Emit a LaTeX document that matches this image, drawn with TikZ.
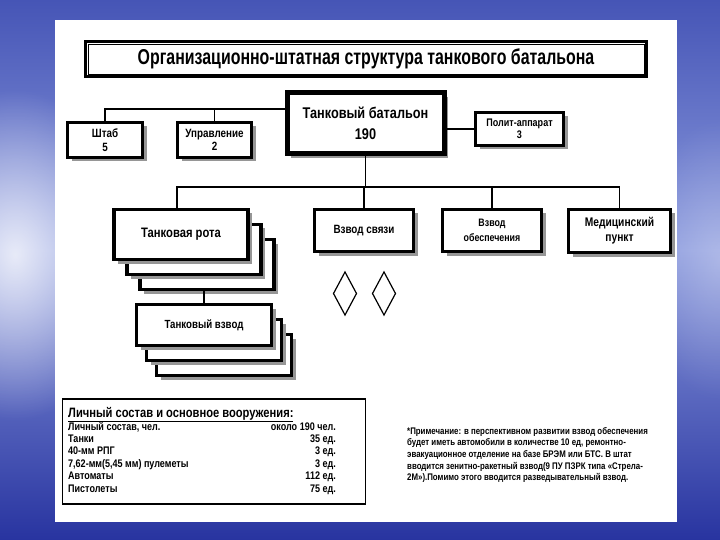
\documentclass[tikz,border=0pt]{standalone}
\usepackage{fontspec}
\setmainfont{Liberation Sans}[FakeStretch=0.82]
\newfontfamily\titlefont{Liberation Sans}[FakeStretch=0.74]
\usetikzlibrary{shadows,calc,fadings}
\tikzfading[name=glow, inner color=transparent!0, outer color=transparent!100]
\definecolor{bgtop}{RGB}{70,85,182}
\definecolor{bgmid}{RGB}{140,155,222}
\definecolor{bgbot}{RGB}{40,52,160}
\definecolor{shad}{RGB}{150,150,150}
\tikzset{
  shd/.style={drop shadow={shadow xshift=4pt,shadow yshift=-4pt,fill=shad,opacity=1}},
  bx/.style 2 args={draw=black,fill=white,line width=3pt,minimum width=#1,minimum height=#2,
     inner sep=0pt,align=center,font=\bfseries\fontsize{12}{13.5}\selectfont,shd},
  conn/.style={draw=black,line width=1.3pt},
  dia/.style={draw=black,line width=1.2pt,fill=white},
  row/.style={inner sep=0pt,font=\bfseries\fontsize{11}{12}\selectfont}
}
\begin{document}
\begin{tikzpicture}[x=1pt,y=-1pt]
\useasboundingbox (0,0) rectangle (720,540);
% background
\shade[top color=bgtop,bottom color=bgmid] (0,0) rectangle (720,250);
\shade[top color=bgmid,bottom color=bgbot] (0,250) rectangle (720,540);
\fill[white,opacity=.8,path fading=glow] (-100,90) rectangle (130,420);
\fill[white,opacity=.3,path fading=glow] (640,120) rectangle (800,400);
\fill[white] (55,20) rectangle (677,522);

% title
\node[draw=black,fill=white,line width=3pt,minimum width=561,minimum height=35,inner sep=0pt,
      font=\titlefont\bfseries\fontsize{21.5}{23}\selectfont] (title) at (366,59)
      {Организационно-штатная структура танкового батальона};
\draw[line width=0.8pt] ([shift={(4,4)}]title.north west) rectangle ([shift={(-4,-4)}]title.south east);

% top level
\node[bx={157}{61},line width=5pt,font=\bfseries\fontsize{15.5}{21}\selectfont] (bat) at (365.5,123.5)
      {Танковый батальон\\190};
\node[bx={75}{35}] (shtab) at (105,140) {Штаб\\5};
\node[bx={74}{35}] (upr) at (214.5,140) {Управление\\2};
\node[bx={88}{33},font=\bfseries\fontsize{11}{12.5}\selectfont] (polit) at (519.5,129) {Полит-аппарат\\3};

\draw[conn] (shtab.north) |- ([yshift=14.5pt]bat.west);
\draw[conn] (upr.north) -- ++(0,-12);
\draw[conn] (bat.east |- polit.west) -- (polit.west);

% second level
\coordinate (bus) at (365.5,187);
\node[bx={134}{50},line width=3.5pt] (rota3) at (207,264.5) {};
\node[bx={134}{50},line width=3.5pt] (rota2) at (194,249.5) {};
\node[bx={134}{50},line width=3.5pt,font=\bfseries\fontsize{13.7}{15}\selectfont] (rota) at (181,234.5) {Танковая рота};
\node[bx={99}{42},line width=3.5pt] (svyaz) at (364,230.5) {Взвод связи};
\node[bx={99}{42},line width=3.5pt,font=\bfseries\fontsize{10.8}{15}\selectfont] (obesp) at (492,230.5) {Взвод\\обеспечения};
\node[bx={102}{43},line width=3.5pt,font=\bfseries\fontsize{12.5}{15}\selectfont] (med) at (619.5,231) {Медицинский\\пункт};

\draw[conn] (bat.south) -- (bus);
\draw[conn] ([xshift=-4pt]rota.north) |- (bus) -| (med.north);
\draw[conn] (svyaz.north) -- (svyaz.north |- bus);
\draw[conn] (obesp.north) -- (obesp.north |- bus);

% diamonds
\draw[dia] (345,272) -- (356.5,293.5) -- (345,315) -- (333.5,293.5) -- cycle;
\draw[dia] (384,272) -- (395.5,293.5) -- (384,315) -- (372.5,293.5) -- cycle;

% platoon stack
\node[bx={135}{41},line width=3.5pt] (vzvod3) at (224,355) {};
\node[bx={135}{41},line width=3.5pt] (vzvod2) at (214,340) {};
\node[bx={135}{41},line width=3.5pt,font=\bfseries\fontsize{11.8}{13}\selectfont] (vzvod) at (204,325) {Танковый взвод};
\draw[conn] (vzvod.north) -- (vzvod.north |- rota3.south);

% table
\node[draw=black,line width=1.8pt,fill=white,minimum width=303,minimum height=105,inner sep=0pt] (tbl) at (214,451.5) {};
\node[anchor=base west,inner sep=0pt,font=\bfseries\fontsize{13.6}{15}\selectfont] (thead) at (68,417)
      {\underline{Личный состав и основное вооружения:}};
\foreach \a/\b [count=\i] in {{Личный состав, чел.}/{около 190 чел.},Танки/35 ед.,40-мм РПГ/3 ед.,
    {7,62-мм(5,45 мм) пулеметы}/3 ед.,Автоматы/112 ед.,Пистолеты/75 ед.}{
  \node[row,anchor=base west] (l\i) at (68,{430+12.4*(\i-1)}) {\a};
  \node[row,anchor=base east] (r\i) at (336,{430+12.4*(\i-1)}) {\b};
}

% note
\node[anchor=north west,inner sep=0pt,align=left,font=\bfseries\fontsize{9.6}{11.6}\selectfont] (note) at (407,427)
 {*Примечание: в перспективном развитии взвод обеспечения\\
  будет иметь автомобили в количестве 10 ед, ремонтно-\\
  эвакуационное отделение на базе БРЭМ или БТС. В штат\\
  вводится зенитно-ракетный взвод(9 ПУ ПЗРК типа «Стрела-\\
  2М»).Помимо этого вводится разведывательный взвод.};
\end{tikzpicture}
\end{document}
